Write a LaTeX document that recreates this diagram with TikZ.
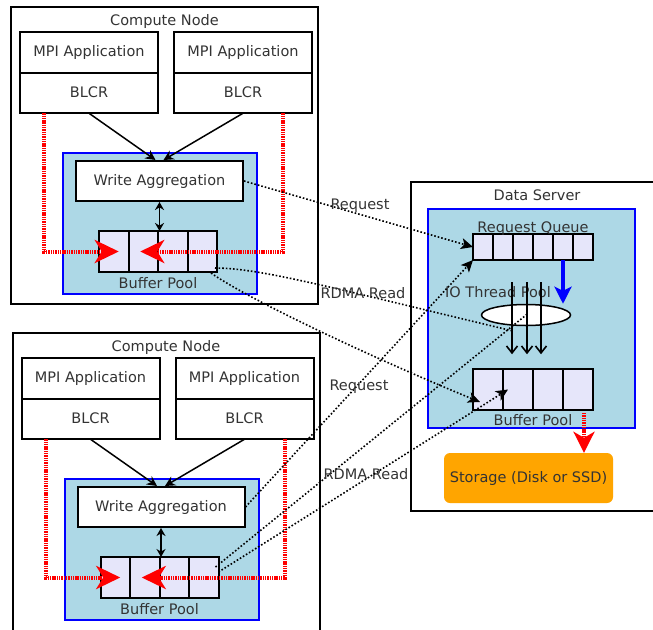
\documentclass[tikz,border=0pt]{standalone}
\usepackage{fontspec}
\setmainfont{DejaVu Sans}
\usepackage{tikz}
\usetikzlibrary{positioning,arrows.meta,shapes.geometric}
\definecolor{poolblue}{RGB}{173,216,230}
\definecolor{cellfill}{RGB}{230,230,250}
\definecolor{diskorange}{RGB}{255,165,0}

\begin{document}
\begin{tikzpicture}[x=1pt, y=-1pt, >=Stealth,
    every node/.style={font=\fontsize{14.5}{17}\selectfont, text=black!80, text height=10.5pt, text depth=2pt, inner sep=1pt},
    host/.style={draw, line width=2pt, fill=white, minimum width=307pt, outer sep=0pt},
    app/.style={draw, line width=2pt, fill=white, minimum width=138pt, minimum height=40.5pt, outer sep=0pt},
    pool/.style={draw=blue, line width=2pt, fill=poolblue},
    agg/.style={draw, line width=2pt, fill=white, minimum width=167pt, minimum height=40pt},
    cell/.style={draw, line width=2pt, fill=cellfill, outer sep=0pt},
    flow/.style={->, line width=1.5pt, >={Stealth[length=10pt,width=10pt]}},
    ckpt/.style={red, line width=4pt, dash pattern=on 1.4pt off 0.9pt, -{Stealth[length=24pt,width=23pt,inset=7pt]}},
    net/.style={black, dash pattern=on 1.6pt off 2pt, line width=1.6pt, -{Stealth[length=12pt,width=11pt,inset=3pt]}}]
  \useasboundingbox (0,0) rectangle (653,629);

  \foreach \i/\dx/\dy/\h in {1/0/0/297, 2/1.5/326/320} {
    \node[host, minimum height=\h pt] (cn\i) at (164.5+\dx, 6.5+\dy+\h/2) {};
    \node (cnt\i) at (164.5+\dx, 21.5+\dy) {Compute Node};
    \node[app] (appL\i) at (89+\dx, 52.5+\dy) {MPI Application};
    \node[app, below=0pt of appL\i] (blcrL\i) {BLCR};
    \node[app, right=16pt of appL\i] (appR\i) {MPI Application};
    \node[app, below=0pt of appR\i] (blcrR\i) {BLCR};
    \node[pool, minimum width=194pt, minimum height=141pt] (bl\i) at (160+\dx, 223.5+\dy) {};
    \node[agg] (wa\i) at (159.5+\dx, 181+\dy) {Write Aggregation};
    \foreach \j in {1,...,4}
      \node[cell, minimum width=29.5pt, minimum height=41pt] (buf\i\j) at (84.25+29.5*\j+\dx, 251.5+\dy) {};
    \node[below=4.5pt] (bpl\i) at (buf\i2.south east) {Buffer Pool};
    \draw[flow] (blcrL\i.south) -- ([xshift=-4pt]wa\i.north);
    \draw[flow] (blcrR\i.south) -- ([xshift=4pt]wa\i.north);
    \draw[line width=1.6pt, {Stealth[length=8pt,width=9pt]}-{Stealth[length=8pt,width=9pt]}] (wa\i.south) -- (wa\i.south |- buf\i3.north);
    \draw[ckpt] ([xshift=24pt]blcrL\i.south west) |- ([xshift=5pt]buf\i1.center);
    \draw[ckpt] ([xshift=-29pt]blcrR\i.south east) |- ([xshift=-3pt]buf\i2.center);
  }

  \node[host, minimum width=260pt, minimum height=329pt] (ds) at (541,346.5) {};
  \node (dst) at (537,196) {Data Server};
  \node[pool, minimum width=207pt, minimum height=219pt] (bl3) at (531.5,318.5) {};
  \foreach \j in {1,...,6}
    \node[cell, minimum width=20pt, minimum height=26pt] (q\j) at (463+20*\j, 247) {};
  \node[above=-2pt] (rql) at (q3.north east) {Request Queue};
  \node[ellipse, draw, line width=1.5pt, fill=white, minimum width=89pt, minimum height=21pt, inner sep=0pt] (io) at (526,315) {};
  \node (iol) at (498,293) {IO Thread Pool};
  \foreach \j in {1,...,4}
    \node[cell, minimum width=30pt, minimum height=41pt] (s\j) at (458+30*\j, 389.5) {};
  \node[below=4pt] (sbl) at (s2.south east) {Buffer Pool};
  \node[fill=diskorange, rounded corners=6pt, minimum width=169pt, minimum height=50pt] (disk) at (528.5,478) {Storage (Disk or SSD)};

  \draw[blue, line width=3.2pt, -{Stealth[length=17pt,width=17pt,inset=4pt]}] (q5.south) -- (q5.south |- io.north);
  \foreach \dx in {-14,1,15}
    \draw[line width=1.6pt, -{Straight Barb[length=7pt,width=11pt]}] ([xshift=\dx pt]io.north) ++(0,-21.5) -- ++(0,72);
  \coordinate (drop) at ([xshift=6pt,yshift=-3pt]s4.south);
  \draw[red, line width=3.5pt, dash pattern=on 1.4pt off 0.9pt, -{Stealth[length=21pt,width=21pt,inset=6pt]}] (drop) -- (drop |- disk.north);

  \draw[net] (wa1.east) -- (q1.west);
  \node (rq1) at (360,205.6) {Request};
  \draw[net, -] ([shift={(-2,-4)}]buf14.south east) .. controls +(45,0) and +(-180,-43) .. ([shift={(-14,4.5)}]io.south);
  \node (rd1) at (363,294.5) {RDMA Read};
  \draw[net] ([shift={(-6,1)}]buf14.south east) .. controls +(40,28) and +(-100,-41) .. ([shift={(7,-8)}]s1.south west);
  \draw[net] (wa2.east) -- (q1.south west);
  \node (rq2) at (359,386) {Request};
  \draw[net, -] ([shift={(-3,10)}]buf24.north east) -- ([shift={(1,-12)}]io.south);
  \node (rd2) at (366,475.5) {RDMA Read};
  \draw[net] ([shift={(0,15)}]buf24.north east) -- ([xshift=5pt]s2.west);
\end{tikzpicture}
\end{document}
